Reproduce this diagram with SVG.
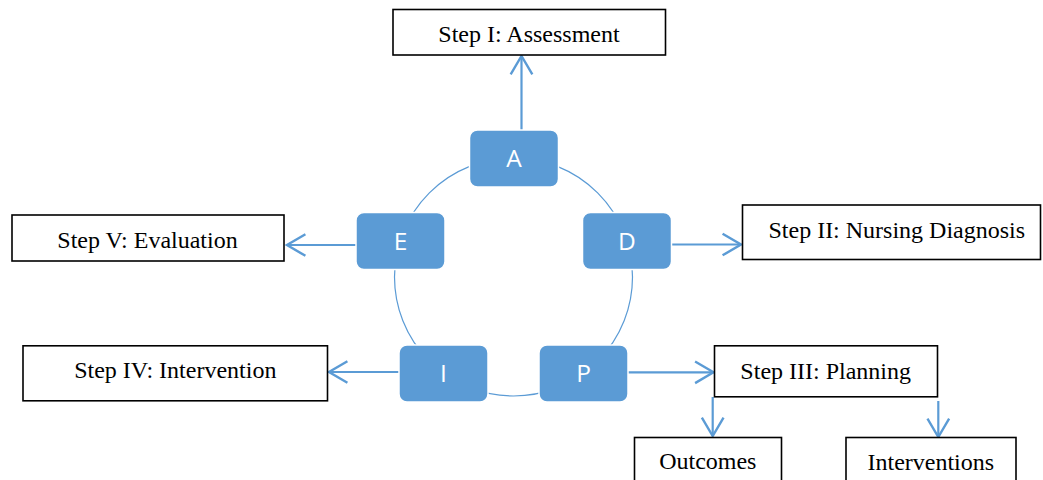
<svg xmlns="http://www.w3.org/2000/svg" width="1043" height="480" viewBox="0 0 1043 480">
  <style>
    .box { fill: #ffffff; stroke: #000000; stroke-width: 1.6; }
    .label { font-family: "Liberation Serif", "Times New Roman", serif; font-size: 24px; fill: #000000; text-anchor: middle; }
    .node { fill: #5B9BD5; stroke: #ffffff; stroke-width: 1.5; }
    .letter { font-family: "Open Sans", "Liberation Sans", sans-serif; font-size: 24.5px; fill: #ffffff; text-anchor: middle; }
    .link { stroke: #5B9BD5; stroke-width: 2.2; fill: none; marker-end: url(#open); }
    .ring { stroke: #5B9BD5; stroke-width: 1.2; fill: none; }
  </style>
  <defs>
    <marker id="open" markerUnits="userSpaceOnUse" markerWidth="24" markerHeight="26" viewBox="-20 -12 22 24" refX="0" refY="0" orient="auto">
      <path d="M-17,-10 L0,0 L-17,10" fill="none" stroke="#5B9BD5" stroke-width="2.2"/>
    </marker>
  </defs>

  <!-- cycle ring behind the five step nodes -->
  <circle class="ring" cx="513.5" cy="277" r="119"/>

  <!-- connectors -->
  <g id="connectors">
    <line class="link" x1="521.5" y1="130" x2="521.5" y2="56"/>
    <line class="link" x1="671" y1="244.5" x2="741" y2="244.5"/>
    <line class="link" x1="356" y1="245" x2="287" y2="245"/>
    <line class="link" x1="399" y1="372" x2="329" y2="372"/>
    <line class="link" x1="628" y1="372.3" x2="713.5" y2="372.3"/>
    <line class="link" x1="712.7" y1="397" x2="712.7" y2="436"/>
    <line class="link" x1="938.3" y1="401" x2="938.3" y2="437"/>
  </g>

  <!-- cycle nodes -->
  <g id="node-a">
    <rect class="node" x="469.5" y="130" width="89" height="57" rx="8"/>
    <text class="letter" x="514" y="167">A</text>
  </g>
  <g id="node-d">
    <rect class="node" x="582.5" y="212.5" width="89" height="57" rx="8"/>
    <text class="letter" x="627" y="249.5">D</text>
  </g>
  <g id="node-e">
    <rect class="node" x="356" y="212.5" width="89" height="57" rx="8"/>
    <text class="letter" x="400.5" y="249.5">E</text>
  </g>
  <g id="node-i">
    <rect class="node" x="399" y="345" width="89" height="57" rx="8"/>
    <text class="letter" x="443.5" y="382">I</text>
  </g>
  <g id="node-p">
    <rect class="node" x="539" y="345" width="89" height="57" rx="8"/>
    <text class="letter" x="583.5" y="382">P</text>
  </g>

  <!-- step boxes -->
  <g id="step-1">
    <rect class="box" x="393" y="9.5" width="272.5" height="45.5"/>
    <text class="label" x="529" y="42.3">Step I: Assessment</text>
  </g>
  <g id="step-2">
    <rect class="box" x="742.5" y="205" width="298" height="54.5"/>
    <text class="label" x="896.8" y="237.7">Step II: Nursing Diagnosis</text>
  </g>
  <g id="step-3">
    <rect class="box" x="714.5" y="345.8" width="223" height="51"/>
    <text class="label" x="825.7" y="379">Step III: Planning</text>
  </g>
  <g id="step-4">
    <rect class="box" x="23" y="345.8" width="304.5" height="55"/>
    <text class="label" x="175.3" y="378.3">Step IV: Intervention</text>
  </g>
  <g id="step-5">
    <rect class="box" x="12" y="215" width="272" height="46"/>
    <text class="label" x="147.5" y="247.7">Step V: Evaluation</text>
  </g>
  <g id="outcomes">
    <rect class="box" x="634.5" y="437.5" width="147" height="50"/>
    <text class="label" x="707.8" y="469">Outcomes</text>
  </g>
  <g id="interventions">
    <rect class="box" x="846" y="437.5" width="170" height="50"/>
    <text class="label" x="930.8" y="470">Interventions</text>
  </g>
</svg>
